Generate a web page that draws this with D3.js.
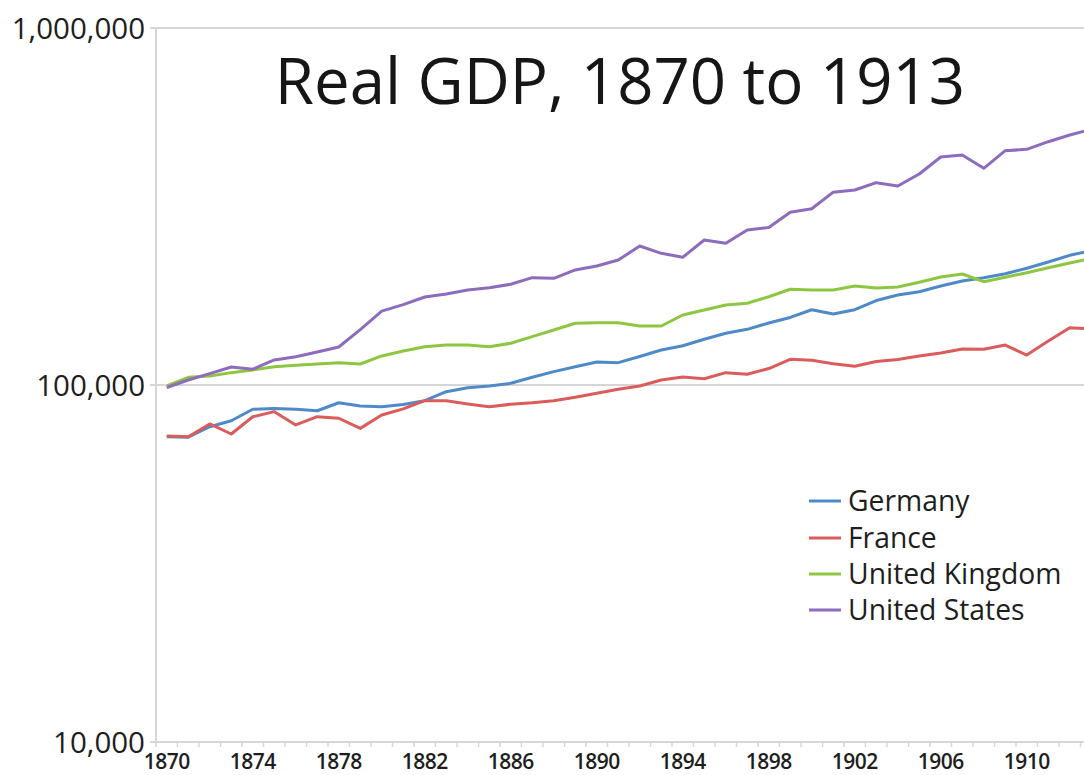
<!DOCTYPE html>
<html>
<head>
<meta charset="utf-8">
<script src="https://cdn.jsdelivr.net/npm/d3@7/dist/d3.min.js"></script>
<style>
    html, body { margin: 0; padding: 0; background: #fff; overflow: hidden; }
    svg { display: block; font-family: "Open Sans", sans-serif; }
</style>
</head>
<body>
<div id="chart"></div>
<script>
// Real GDP (million 1990 GK$)
var years = [1870, 1871, 1872, 1873, 1874, 1875, 1876, 1877, 1878, 1879,
             1880, 1881, 1882, 1883, 1884, 1885, 1886, 1887, 1888, 1889,
             1890, 1891, 1892, 1893, 1894, 1895, 1896, 1897, 1898, 1899,
             1900, 1901, 1902, 1903, 1904, 1905, 1906, 1907, 1908, 1909,
             1910, 1911, 1912, 1913];

var germany = [71600, 71400, 76400, 79400, 85500, 86000, 85500, 84700, 89200, 87300,
               86900, 88200, 90400, 95800, 98300, 99400, 101100, 105100, 109000, 112500,
               116000, 115500, 120200, 125300, 128800, 134300, 139600, 143200, 149200, 154600,
               162500, 158100, 162500, 172400, 178700, 182500, 189300, 195500, 199600, 204900,
               212300, 221100, 230800, 238000];

var france = [72000, 71600, 77800, 72900, 81500, 84200, 77300, 81500, 80700, 75600,
              82400, 85700, 90400, 90400, 88500, 86900, 88300, 89200, 90400, 92400,
              94800, 97300, 99400, 103300, 105300, 104100, 108300, 107200, 111200, 118000,
              117300, 114700, 112800, 116400, 117900, 120600, 122900, 126100, 125900, 129400,
              121300, 132800, 144700, 143500];

var unitedKingdom = [99500, 105100, 106000, 108300, 110200, 112500, 113600, 114500, 115500, 114500,
                     120600, 124500, 128000, 129400, 129400, 128000, 130900, 136600, 142600, 148900,
                     149500, 149500, 146300, 146300, 157100, 162300, 167600, 169400, 176700, 185400,
                     184500, 184500, 189300, 186900, 188100, 194100, 200700, 204600, 194700, 200300,
                     206300, 213000, 219700, 226000];

var unitedStates = [98400, 103300, 107600, 112300, 110700, 117500, 120000, 123700, 127800, 142900,
                    161000, 167900, 176400, 179900, 184500, 187300, 191500, 199800, 199000, 210000,
                    215400, 223900, 245100, 233800, 227900, 254800, 249500, 271800, 276200, 304800,
                    311700, 346900, 351800, 368700, 360900, 390000, 435200, 440900, 404600, 453200,
                    457300, 480300, 501500, 520000];

var seriesNames = ['Germany', 'France', 'United Kingdom', 'United States'];
var seriesColors = ['#4e8ac8', '#dc5b5b', '#8ec641', '#8d6bbd'];
var seriesValues = [germany, france, unitedKingdom, unitedStates];

var yTickValues = [10000, 100000, 1000000];
var xLabelYears = [1870, 1874, 1878, 1882, 1886, 1890, 1894, 1898, 1902, 1906, 1910];

var titleText = 'Real GDP, 1870 to 1913';

/**
 * Draw the whole chart
 */
function renderChart() {
    var width = 1084, height = 775;
    var plotLeft = 156, plotTop = 28, plotBottom = 742;
    var bandWidth = 21.5;

    var svg = d3.select('#chart').append('svg')
        .attr('width', width)
        .attr('height', height);

    // Category axis: one band per year, the last one runs past the right edge
    var x = d3.scaleBand()
        .domain(years)
        .range([plotLeft, plotLeft + years.length * bandWidth])
        .padding(0);

    var y = d3.scaleLog()
        .domain([10000, 1000000])
        .range([plotBottom, plotTop]);

    var gridColor = '#d6d6d6';

    // Horizontal gridlines (and the baseline)
    svg.selectAll('.grid')
        .data(yTickValues)
        .enter()
        .append('line')
        .attr('class', 'grid')
        .attr('x1', plotLeft - 6)
        .attr('x2', x.range()[1])
        .attr('y1', function(d) { return y(d); })
        .attr('y2', function(d) { return y(d); })
        .attr('stroke', gridColor)
        .attr('stroke-width', 2);

    // Vertical axis line
    svg.append('line')
        .attr('x1', plotLeft).attr('x2', plotLeft)
        .attr('y1', plotTop).attr('y2', plotBottom)
        .attr('stroke', gridColor)
        .attr('stroke-width', 2);

    // Tick marks between categories
    svg.selectAll('.xtick')
        .data(years)
        .enter()
        .append('line')
        .attr('class', 'xtick')
        .attr('x1', function(d) { return x(d); })
        .attr('x2', function(d) { return x(d); })
        .attr('y1', plotBottom)
        .attr('y2', plotBottom + 5)
        .attr('stroke', gridColor)
        .attr('stroke-width', 1.5);

    // Y labels
    var fmt = d3.format(',');
    svg.selectAll('.ylabel')
        .data(yTickValues)
        .enter()
        .append('text')
        .attr('class', 'ylabel')
        .attr('x', 145)
        .attr('y', function(d) { return y(d); })
        .attr('dy', '0.38em')
        .attr('text-anchor', 'end')
        .attr('font-size', 29.5)
        .attr('fill', '#1e1e1e')
        .text(function(d) { return fmt(d); });

    // X labels, centred in their band
    svg.selectAll('.xlabel')
        .data(xLabelYears)
        .enter()
        .append('text')
        .attr('class', 'xlabel')
        .attr('x', function(d) { return x(d) + x.bandwidth() / 2; })
        .attr('y', 769)
        .attr('text-anchor', 'middle')
        .attr('font-size', 21)
        .attr('font-weight', 600)
        .attr('letter-spacing', -0.5)
        .attr('fill', '#1e1e1e')
        .text(function(d) { return d; });

    // Series lines
    var line = d3.line()
        .x(function(d) { return x(d.year) + x.bandwidth() / 2; })
        .y(function(d) { return y(d.value); });

    seriesValues.forEach(function(vals, i) {
        var pts = years.map(function(yr, j) { return { year: yr, value: vals[j] }; });
        svg.append('path')
            .datum(pts)
            .attr('d', line)
            .attr('fill', 'none')
            .attr('stroke', seriesColors[i])
            .attr('stroke-width', 3)
            .attr('stroke-linejoin', 'round');
    });

    // Title
    svg.append('text')
        .attr('x', 620)
        .attr('y', 104)
        .attr('text-anchor', 'middle')
        .attr('font-size', 63.5)
        .attr('fill', '#161616')
        .text(titleText);

    // Legend
    var legendRows = [501, 538, 574, 610];
    var legend = svg.selectAll('.legend')
        .data(seriesNames)
        .enter()
        .append('g')
        .attr('class', 'legend')
        .attr('transform', function(d, i) { return 'translate(0,' + legendRows[i] + ')'; });

    legend.append('line')
        .attr('x1', 809).attr('x2', 841)
        .attr('y1', 0).attr('y2', 0)
        .attr('stroke', function(d, i) { return seriesColors[i]; })
        .attr('stroke-width', 3);

    legend.append('text')
        .attr('x', 848)
        .attr('dy', '0.36em')
        .attr('font-size', 28.3)
        .attr('fill', '#1e1e1e')
        .text(function(d) { return d; });
}

renderChart();
</script>
</body>
</html>
